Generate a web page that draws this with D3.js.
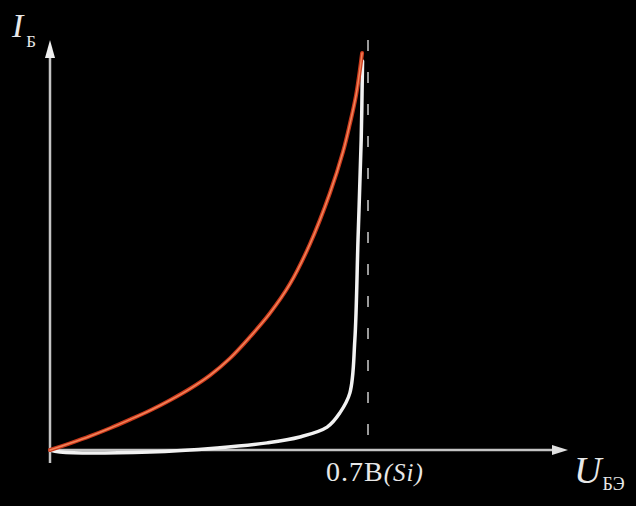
<!DOCTYPE html>
<html>
<head>
<meta charset="utf-8">
<script src="https://cdn.jsdelivr.net/npm/d3@7"></script>
<style>
  html, body { margin: 0; padding: 0; background: #000; }
  #wrapper { width: 636px; height: 506px; overflow: hidden; }
  text { font-family: "Liberation Serif", "DejaVu Serif", serif; fill: #e8e8e8; }
</style>
</head>
<body>
<div id="wrapper"></div>
<script>
// data (U in volts, I in relative units)
const redU = [0, 0.044, 0.088, 0.132, 0.176, 0.220, 0.264, 0.308, 0.352, 0.396, 0.440, 0.484, 0.528, 0.572, 0.616, 0.645, 0.660, 0.674, 0.687]
const redI = [0, 0.017, 0.035, 0.055, 0.077, 0.100, 0.126, 0.155, 0.189, 0.232, 0.286, 0.346, 0.420, 0.521, 0.650, 0.755, 0.825, 0.900, 1.005]

const whiteU = [0, 0.022, 0.220, 0.368, 0.478, 0.550, 0.610, 0.638, 0.660, 0.671, 0.678, 0.685, 0.688]
const whiteI = [0, -0.005, -0.005, 0.005, 0.018, 0.033, 0.058, 0.094, 0.144, 0.278, 0.532, 0.785, 0.985]

const thresholdU = 0.7
const thresholdLabel = "0.7В"
const thresholdMaterial = "(Si)"

const redData = redU.map((u, i) => ({ u, i: redI[i] }))
const whiteData = whiteU.map((u, i) => ({ u, i: whiteI[i] }))

function drawChart() {
  const xAccessor = d => d.u
  const yAccessor = d => d.i

  let dimensions = {
    width: 636,
    height: 506,
    originX: 50,
    originY: 450,
  }

  const svg = d3.select("#wrapper")
    .append("svg")
      .attr("width", dimensions.width)
      .attr("height", dimensions.height)

  svg.append("rect")
    .attr("width", dimensions.width)
    .attr("height", dimensions.height)
    .attr("fill", "#000")

  // scales
  const xScale = d3.scaleLinear()
    .domain([0, thresholdU])
    .range([dimensions.originX, 368])

  const yScale = d3.scaleLinear()
    .domain([0, 1])
    .range([dimensions.originY, 55])

  const axisColor = "#c4c4c4"

  // axes (plain arrows, no ticks)
  svg.append("line")
    .attr("x1", xScale(0)).attr("x2", 556)
    .attr("y1", yScale(0)).attr("y2", yScale(0))
    .attr("stroke", axisColor)
    .attr("stroke-width", 2.5)

  svg.append("path")
    .attr("d", `M${568},${yScale(0)} L${552},${yScale(0) - 5} L${552},${yScale(0) + 5} Z`)
    .attr("fill", "#e0e0e0")

  svg.append("line")
    .attr("x1", xScale(0)).attr("x2", xScale(0))
    .attr("y1", 463).attr("y2", 56)
    .attr("stroke", axisColor)
    .attr("stroke-width", 2.5)

  svg.append("path")
    .attr("d", `M${xScale(0)},${40} L${xScale(0) - 5},${58} L${xScale(0) + 5},${58} Z`)
    .attr("fill", "#f0f0f0")

  // dashed threshold line
  svg.append("line")
    .attr("x1", xScale(thresholdU)).attr("x2", xScale(thresholdU))
    .attr("y1", 40).attr("y2", yScale(0))
    .attr("stroke", "#9a9a9a")
    .attr("stroke-width", 2)
    .attr("stroke-dasharray", "11,21")

  // smooth curve through the read points
  const lineGenerator = d3.line()
    .x(d => xScale(xAccessor(d)))
    .y(d => yScale(yAccessor(d)))
    .curve(d3.curveCatmullRom.alpha(0.5))

  // white curve
  svg.append("path")
    .datum(whiteData)
    .attr("d", lineGenerator)
    .attr("fill", "none")
    .attr("stroke", "#f2f2f2")
    .attr("stroke-width", 3.5)
    .attr("stroke-linecap", "round")

  // red curve, with a lighter core
  svg.append("path")
    .datum(redData)
    .attr("d", lineGenerator)
    .attr("fill", "none")
    .attr("stroke", "#cc3a1c")
    .attr("stroke-width", 4)
    .attr("stroke-linecap", "round")

  svg.append("path")
    .datum(redData)
    .attr("d", lineGenerator)
    .attr("fill", "none")
    .attr("stroke", "#f2845a")
    .attr("stroke-width", 1.5)
    .attr("stroke-linecap", "round")

  // labels
  const yLabel = svg.append("text")
    .attr("x", 12)
    .attr("y", 37)
  yLabel.append("tspan")
    .style("font-style", "italic")
    .style("font-size", "34px")
    .text("I")
  yLabel.append("tspan")
    .attr("dy", 10)
    .attr("dx", 3)
    .style("font-size", "17px")
    .text("Б")

  const xLabel = svg.append("text")
    .attr("x", 574)
    .attr("y", 483)
  xLabel.append("tspan")
    .style("font-style", "italic")
    .style("font-size", "38px")
    .text("U")
  xLabel.append("tspan")
    .attr("dy", 7)
    .attr("dx", 1)
    .style("font-size", "18px")
    .text("БЭ")

  const thresholdText = svg.append("text")
    .attr("x", 326)
    .attr("y", 481)
    .style("font-size", "28px")
    .style("letter-spacing", "1px")
  thresholdText.append("tspan")
    .text(thresholdLabel)
  thresholdText.append("tspan")
    .style("font-style", "italic")
    .style("font-size", "25px")
    .text(thresholdMaterial)
}

drawChart()
</script>
</body>
</html>
